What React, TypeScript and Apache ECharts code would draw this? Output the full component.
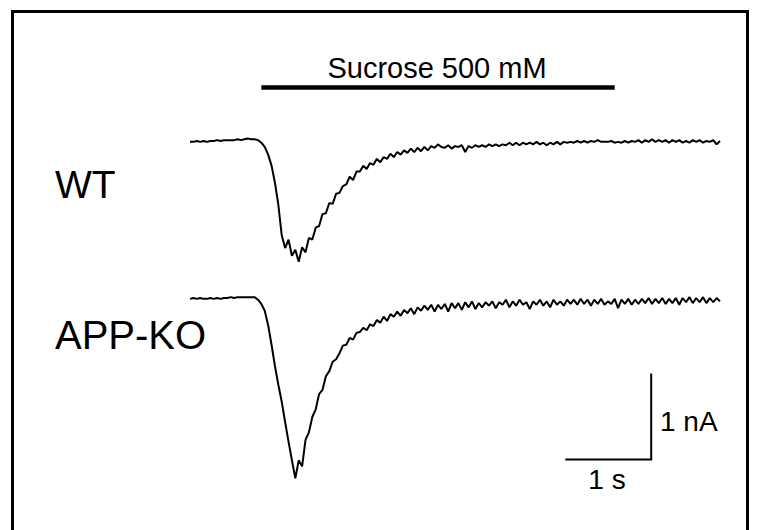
import React, { useEffect, useRef } from "react";
import * as echarts from "echarts";

// Sampling interval of the recordings (s)
const SAMPLE_INTERVAL = 0.04;

// WT current trace (nA)
const WT_CURRENT = [
  -0.01, -0.01, 0, -0.01, 0, -0.01, 0, 0, 0.01, 0, 0.01, 0.01, 0.01, 0.01, 0.02, 0.01, 0.02, 0.03, 0.02, 0.02, 0.01,
  -0.02, -0.07, -0.16, -0.29, -0.49, -0.75, -1.11,
  -1.26, -1.16, -1.35, -1.28, -1.42, -1.25, -1.31, -1.14, -1.16, -1.02, -1.0, -0.86, -0.85,
  -0.73, -0.74, -0.62, -0.61, -0.53, -0.51, -0.42, -0.46, -0.36, -0.36, -0.29, -0.33, -0.26, -0.28, -0.21, -0.25, -0.19, -0.21, -0.15, -0.19,
  -0.13, -0.16, -0.11, -0.14, -0.09, -0.13, -0.08, -0.12, -0.07, -0.11, -0.06, -0.08, -0.04, -0.07, -0.08, -0.05, -0.09, -0.06, -0.07, -0.05,
  -0.13, -0.06, -0.08, -0.05, -0.07, -0.05, -0.07, -0.04, -0.06, -0.04, -0.06, -0.04, -0.05, -0.02, -0.05, -0.02, -0.05, -0.02, -0.04, -0.02,
  -0.04, -0.01, -0.04, -0.02, -0.05, -0.02, -0.04, -0.01, -0.04, -0.01, -0.02, -0.01, -0.02, 0, -0.02, 0, -0.02, 0, -0.01, 0.01,
  -0.01, -0.01, -0.01, 0, -0.02, -0.01, -0.02, 0, -0.02, 0, -0.01, 0.01, -0.02, 0.01, -0.01, 0.02, -0.01, 0.01, -0.01, 0.01,
  -0.02, 0.01, -0.01, 0.01, -0.02, 0, -0.02, 0.01, -0.01, 0.01, -0.02, 0, -0.01, 0.01, -0.04, 0,
];

// APP-KO current trace (nA)
const KO_CURRENT = [
  -0.01, 0, -0.01, 0, -0.01, -0.01, 0, -0.01, 0, -0.01, 0, 0, 0.01, 0, 0.01, 0.01, 0.01, 0.01, 0.01, 0.01, -0.02,
  -0.07, -0.15, -0.32, -0.55, -0.8, -1.02, -1.22, -1.46, -1.69, -1.91, -2.12, -1.91, -1.98, -1.67, -1.58, -1.4, -1.31, -1.13, -1.08, -0.92,
  -0.86, -0.75, -0.72, -0.65, -0.56, -0.55, -0.47, -0.49, -0.41, -0.4, -0.35, -0.38, -0.31, -0.33, -0.26, -0.29, -0.22, -0.27, -0.19, -0.22,
  -0.16, -0.21, -0.14, -0.18, -0.12, -0.19, -0.11, -0.15, -0.09, -0.14, -0.08, -0.16, -0.08, -0.13, -0.07, -0.16, -0.06, -0.12, -0.06, -0.14,
  -0.05, -0.11, -0.04, -0.13, -0.06, -0.11, -0.05, -0.09, -0.04, -0.12, -0.05, -0.08, -0.02, -0.11, -0.04, -0.09, -0.02, -0.08, -0.05, -0.13,
  -0.04, -0.08, -0.02, -0.09, -0.04, -0.11, -0.02, -0.08, -0.04, -0.09, -0.02, -0.07, -0.02, -0.08, -0.01, -0.07, -0.02, -0.09, -0.02, -0.07,
  -0.01, -0.08, -0.04, -0.07, -0.01, -0.12, -0.02, -0.07, -0.01, -0.08, -0.02, -0.07, -0.01, -0.06, 0, -0.07, -0.01, -0.06, 0, -0.07,
  -0.01, -0.06, 0, -0.08, 0, -0.05, 0.01, -0.06, 0, -0.05, 0.01, -0.06, 0, -0.05, 0, -0.04,
];

// Sucrose application window (s) and the bar's level above the WT trace (nA)
const SUCROSE_ON = 0.84;
const SUCROSE_OFF = 5.0;
const SUCROSE_LEVEL = 0.63;
const SUCROSE_LABEL = "Sucrose 500 mM";

// Trace labels
const TRACE_LABELS = ["WT", "APP-KO"];

// Scale bar: 1 s by 1 nA, corner position in the APP-KO panel
const SCALE_START_T = 4.43;
const SCALE_BASE_I = -1.9;
const SCALE_T = 1;
const SCALE_I = 1;
const SCALE_LABELS = ["1 s", "1 nA"];

const FONT = "'Liberation Sans', Arial, Helvetica, sans-serif";

export default function App() {
  const ref = useRef<HTMLDivElement>(null);

  useEffect(() => {
    if (!ref.current) return;
    const chart = echarts.init(ref.current, undefined, { renderer: "svg" });

    const wt = WT_CURRENT.map((v, i) => [+(i * SAMPLE_INTERVAL).toFixed(3), v]);
    const ko = KO_CURRENT.map((v, i) => [+(i * SAMPLE_INTERVAL).toFixed(3), v]);
    const tEnd = (WT_CURRENT.length - 1) * SAMPLE_INTERVAL;

    const scaleBar = [
      [SCALE_START_T, SCALE_BASE_I],
      [SCALE_START_T + SCALE_T, SCALE_BASE_I],
      [SCALE_START_T + SCALE_T, SCALE_BASE_I + SCALE_I],
    ];

    const traceStyle = { color: "#000", width: 2 };

    chart.setOption({
      animation: false,
      backgroundColor: "#fff",
      grid: [
        { left: 190, width: 530, top: 73, height: 204 },
        { left: 190, width: 530, top: 264, height: 238 },
      ],
      xAxis: [
        { type: "value", gridIndex: 0, min: 0, max: tEnd, show: false },
        { type: "value", gridIndex: 1, min: 0, max: tEnd, show: false },
      ],
      yAxis: [
        { type: "value", gridIndex: 0, min: -1.6, max: 0.8, show: false },
        { type: "value", gridIndex: 1, min: -2.4, max: 0.4, show: false },
      ],
      series: [
        {
          name: "WT",
          type: "line",
          xAxisIndex: 0,
          yAxisIndex: 0,
          data: wt,
          showSymbol: false,
          symbol: "none",
          lineStyle: traceStyle,
          silent: true,
        },
        {
          name: "Sucrose",
          type: "line",
          xAxisIndex: 0,
          yAxisIndex: 0,
          data: [
            [SUCROSE_ON, SUCROSE_LEVEL],
            [SUCROSE_OFF, SUCROSE_LEVEL],
          ],
          showSymbol: false,
          symbol: "none",
          lineStyle: { color: "#000", width: 4.5, cap: "butt" },
          silent: true,
        },
        {
          name: "APP-KO",
          type: "line",
          xAxisIndex: 1,
          yAxisIndex: 1,
          data: ko,
          showSymbol: false,
          symbol: "none",
          lineStyle: traceStyle,
          silent: true,
        },
        {
          name: "Scale",
          type: "line",
          xAxisIndex: 1,
          yAxisIndex: 1,
          data: scaleBar,
          showSymbol: false,
          symbol: "none",
          lineStyle: { color: "#000", width: 2, cap: "square", join: "miter" },
          silent: true,
        },
      ],
      graphic: [
        {
          type: "rect",
          shape: { x: 12.5, y: 11.5, width: 735, height: 600 },
          style: { fill: "none", stroke: "#000", lineWidth: 3 },
          silent: true,
        },
        {
          type: "text",
          x: 437,
          y: 68,
          style: { text: SUCROSE_LABEL, font: `29px ${FONT}`, fill: "#000", align: "center", verticalAlign: "middle" },
        },
        {
          type: "text",
          x: 55,
          y: 184,
          style: { text: TRACE_LABELS[0], font: `39px ${FONT}`, fill: "#000", align: "left", verticalAlign: "middle" },
        },
        {
          type: "text",
          x: 55,
          y: 335,
          style: { text: TRACE_LABELS[1], font: `40px ${FONT}`, fill: "#000", align: "left", verticalAlign: "middle" },
        },
        {
          type: "text",
          x: 607,
          y: 479,
          style: { text: SCALE_LABELS[0], font: `28px ${FONT}`, fill: "#000", align: "center", verticalAlign: "middle" },
        },
        {
          type: "text",
          x: 660,
          y: 421,
          style: { text: SCALE_LABELS[1], font: `28px ${FONT}`, fill: "#000", align: "left", verticalAlign: "middle" },
        },
      ],
    });

    return () => chart.dispose();
  }, []);

  return (
    <div
      ref={ref}
      style={{ position: "fixed", left: 0, top: 0, width: 759, height: 530, background: "#fff" }}
    />
  );
}
